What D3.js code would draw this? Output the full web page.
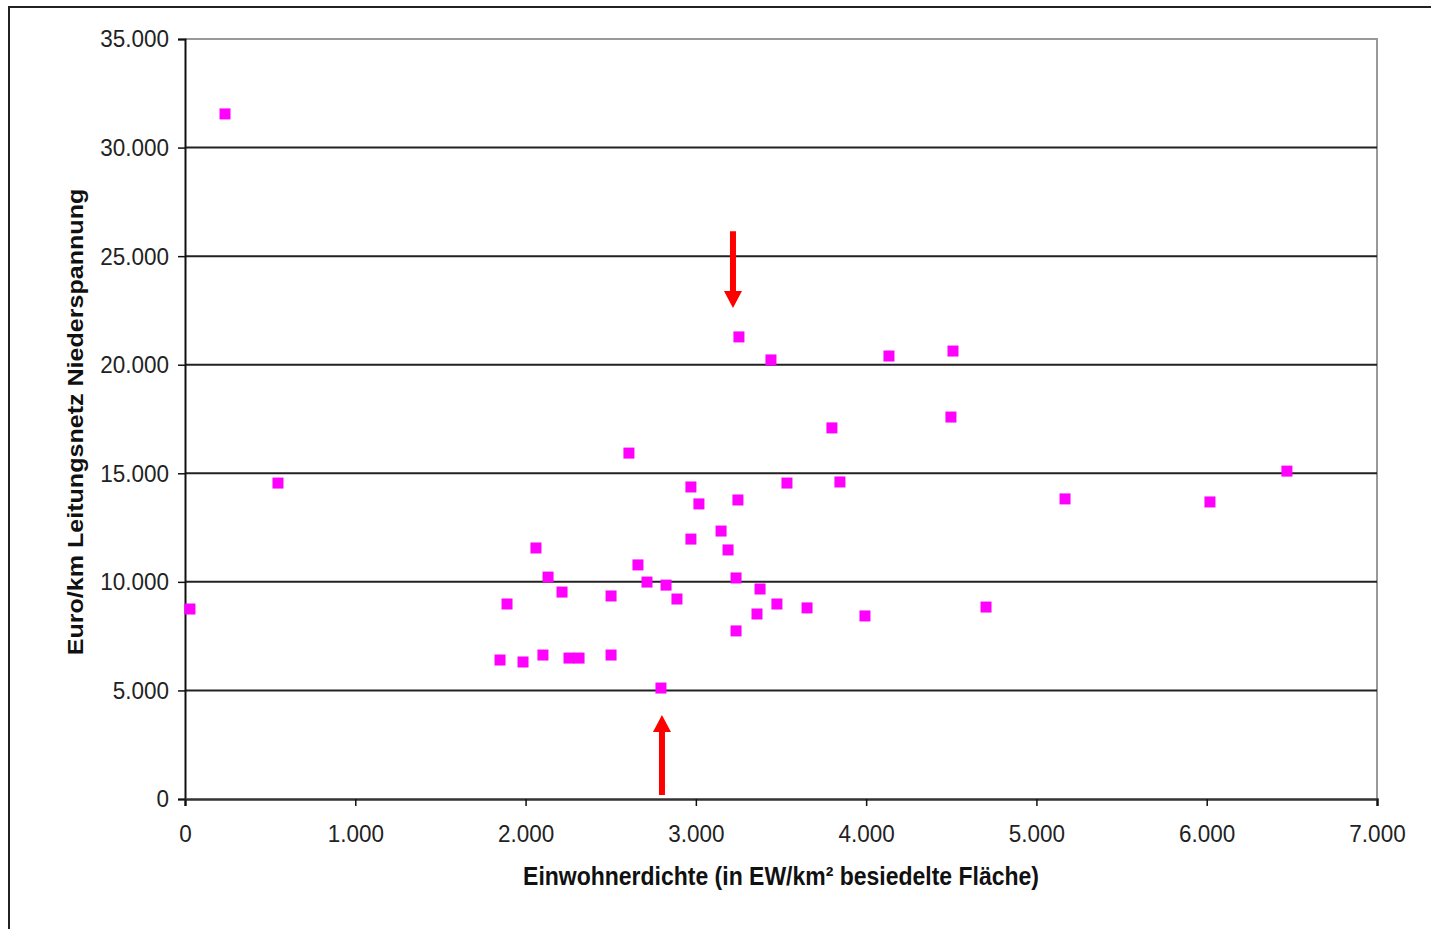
<!DOCTYPE html>
<html>
<head>
<meta charset="utf-8">
<script src="https://cdn.jsdelivr.net/npm/d3@7"></script>
<style>
  body { margin: 0; background: #fff; }
  text { font-family: "Liberation Sans", Arial, sans-serif; }
</style>
</head>
<body>
<div id="chart"></div>
<script>
// Einwohnerdichte (EW/km²) vs. Euro/km Leitungsnetz
const density = [29, 235, 546, 1850, 1891, 1985, 2061, 2102, 2132, 2214, 2255, 2314,
  2502, 2502, 2607, 2660, 2713, 2795, 2825, 2889, 2971, 2971, 3018, 3148, 3189,
  3236, 3247, 3236, 3253, 3359, 3377, 3441, 3476, 3535, 3653, 3799, 3846, 3993,
  4134, 4498, 4510, 4704, 5168, 6019, 6471];
const cost = [8750, 31550, 14550, 6400, 8980, 6310, 11560, 6630, 10220, 9530, 6490, 6490,
  9350, 6630, 15930, 10780, 9990, 5110, 9850, 9210, 14370, 11970, 13590, 12340, 11470,
  10180, 13770, 7740, 21280, 8520, 9670, 20220, 8980, 14550, 8800, 17090, 14600, 8430,
  20400, 17590, 20630, 8840, 13820, 13680, 15100];
const xTicks = [0, 1000, 2000, 3000, 4000, 5000, 6000, 7000];
const yTicks = [0, 5000, 10000, 15000, 20000, 25000, 30000, 35000];
// red arrows: [x, from, to]
const arrows = [[3218, 26150, 22610], [2801, 180, 3870]];

const W = 1431, H = 929;
const x = d3.scaleLinear().domain([0, 7000]).range([185, 1377]);
const y = d3.scaleLinear().domain([0, 35000]).range([799, 39]);
const fmt = d3.formatLocale({decimal: ",", thousands: ".", grouping: [3], currency: ["", "€"]}).format(",d");
const stretch = 1.1; // glyphs in the original are a bit taller than wide

const svg = d3.select("#chart").append("svg")
  .attr("width", W).attr("height", H);

// outer frame
svg.append("path")
  .attr("d", `M9,${H} V7 H${W}`)
  .attr("fill", "none").attr("stroke", "#222").attr("stroke-width", 2);

// plot border (top + right in gray)
svg.append("path")
  .attr("d", `M${x(0)},${y(35000)} H${x(7000)} V${y(0)}`)
  .attr("fill", "none").attr("stroke", "#999").attr("stroke-width", 2);

// gridlines
svg.append("g").selectAll("line")
  .data(yTicks.filter(d => d > 0 && d < 35000))
  .join("line")
  .attr("x1", x(0)).attr("x2", x(7000))
  .attr("y1", d => y(d)).attr("y2", d => y(d))
  .attr("stroke", "#222").attr("stroke-width", 2);

// y axis
const yAxis = svg.append("g")
  .attr("transform", `translate(${x(0)},0)`)
  .call(d3.axisLeft(y).tickValues(yTicks).tickFormat(fmt).tickSizeOuter(0).tickSize(7).tickPadding(9));
yAxis.select(".domain").attr("stroke", "#111").attr("stroke-width", 2);
yAxis.selectAll(".tick line").attr("stroke", "#111").attr("stroke-width", 1.5);
yAxis.selectAll("text").attr("font-size", 22.5).attr("fill", "#222")
  .attr("font-family", "Liberation Sans, Arial, sans-serif")
  .attr("transform", `scale(1,${stretch})`);

// x axis
const xAxis = svg.append("g")
  .attr("transform", `translate(0,${y(0)})`)
  .call(d3.axisBottom(x).tickValues(xTicks).tickFormat(fmt).tickSizeOuter(0).tickSize(7).tickPadding(16.5));
xAxis.select(".domain").attr("stroke", "#333").attr("stroke-width", 2.5);
xAxis.selectAll(".tick line").attr("stroke", "#111").attr("stroke-width", 1.5);
xAxis.selectAll("text").attr("font-size", 22.5).attr("fill", "#222")
  .attr("font-family", "Liberation Sans, Arial, sans-serif")
  .attr("transform", `scale(1,${stretch})`);

// points
const pts = density.map((d, i) => ({x: d, y: cost[i]}));
const s = 11;
svg.append("g").selectAll("rect")
  .data(pts)
  .join("rect")
  .attr("x", d => x(d.x) - s / 2)
  .attr("y", d => y(d.y) - s / 2)
  .attr("width", s).attr("height", s)
  .attr("fill", "#ff00ff");

// arrows
const arrowPath = ([ax, from, to]) => {
  const px = x(ax), y0 = y(from), y1 = y(to);
  const dir = y1 > y0 ? 1 : -1;
  const hl = 17, hw = 9, sw = 3;
  const yb = y1 - dir * hl;
  return `M${px - sw},${y0} L${px + sw},${y0} L${px + sw},${yb} L${px + hw},${yb} L${px},${y1} L${px - hw},${yb} L${px - sw},${yb} Z`;
};
svg.append("g").selectAll("path")
  .data(arrows)
  .join("path")
  .attr("d", arrowPath)
  .attr("fill", "#ff0000");

// axis titles
svg.append("text")
  .attr("transform", `translate(${(x(0) + x(7000)) / 2 - 0},885) scale(1,${stretch})`)
  .attr("text-anchor", "middle")
  .attr("font-size", 23).attr("font-weight", "bold").attr("fill", "#111")
  .text("Einwohnerdichte (in EW/km² besiedelte Fläche)");

svg.append("text")
  .attr("transform", `translate(83,${(y(0) + y(35000)) / 2 + 3}) scale(1,${stretch}) rotate(-90)`)
  .attr("text-anchor", "middle")
  .attr("font-size", 22.8).attr("font-weight", "bold").attr("fill", "#111")
  .text("Euro/km Leitungsnetz Niederspannung");
</script>
</body>
</html>
